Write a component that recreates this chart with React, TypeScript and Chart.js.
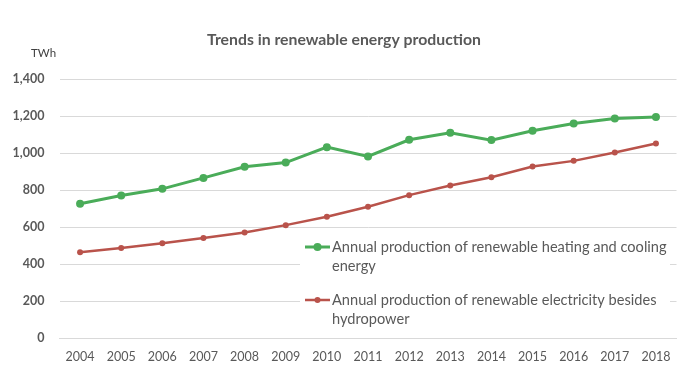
import React, { useEffect, useRef } from "react";
import { Chart, registerables } from "chart.js";

Chart.register(...registerables);

const years = ["2004","2005","2006","2007","2008","2009","2010","2011","2012","2013","2014","2015","2016","2017","2018"];
const heatingCooling = [726, 771, 807, 866, 926, 949, 1032, 982, 1072, 1110, 1070, 1121, 1160, 1187, 1195];
const electricity = [465, 488, 513, 542, 571, 611, 656, 710, 773, 825, 870, 928, 958, 1003, 1052];
const seriesNames = [
  "Annual production of renewable heating and cooling energy",
  "Annual production of renewable electricity besides hydropower",
];
const titleText = "Trends in renewable energy production";
const unitText = "TWh";

const GREEN = "#4aac59";
const RED = "#b9534b";
const TEXT = "#595959";
const FONT = "Lato, 'Open Sans', sans-serif";

function wrap(ctx: CanvasRenderingContext2D, text: string, maxW: number): string[] {
  const words = text.split(" ");
  const lines: string[] = [];
  let cur = "";
  for (const w of words) {
    const t = cur ? cur + " " + w : w;
    if (ctx.measureText(t).width > maxW && cur) {
      lines.push(cur);
      cur = w;
    } else cur = t;
  }
  if (cur) lines.push(cur);
  return lines;
}

const decorPlugin = {
  id: "decor",
  afterDraw(chart: any) {
    const ctx: CanvasRenderingContext2D = chart.ctx;
    ctx.save();
    // title
    ctx.fillStyle = TEXT;
    ctx.font = `bold 15.8px ${FONT}`;
    ctx.textAlign = "center";
    ctx.textBaseline = "middle";
    ctx.fillText(titleText, 344, 40);
    // unit
    ctx.fillStyle = "#404040";
    ctx.font = `11.5px ${FONT}`;
    ctx.textAlign = "left";
    ctx.fillText(unitText, 31, 53);
    // legend
    ctx.fillStyle = "#ffffff";
    ctx.fillRect(300, 232, 370, 100);
    const entries = [
      { color: GREEN, r: 4, lw: 3, y: 247 },
      { color: RED, r: 3, lw: 2.5, y: 300 },
    ];
    ctx.font = `14.6px ${FONT}`;
    entries.forEach((e, i) => {
      ctx.strokeStyle = e.color;
      ctx.lineWidth = e.lw;
      ctx.beginPath();
      ctx.moveTo(305, e.y);
      ctx.lineTo(330, e.y);
      ctx.stroke();
      ctx.fillStyle = e.color;
      ctx.beginPath();
      ctx.arc(317.5, e.y, e.r, 0, Math.PI * 2);
      ctx.fill();
      ctx.fillStyle = TEXT;
      ctx.textAlign = "left";
      ctx.textBaseline = "middle";
      const lines = wrap(ctx, seriesNames[i], 345);
      lines.forEach((ln, j) => ctx.fillText(ln, 332, e.y + j * 19));
    });
    ctx.restore();
  },
};

export default function App() {
  const ref = useRef<HTMLCanvasElement>(null);
  useEffect(() => {
    document.body.style.margin = "0";
    const chart = new Chart(ref.current!, {
      type: "line",
      data: {
        labels: years,
        datasets: [
          {
            label: seriesNames[0],
            data: heatingCooling,
            borderColor: GREEN,
            backgroundColor: GREEN,
            borderWidth: 3,
            pointRadius: 4,
            pointBorderWidth: 0,
            pointBackgroundColor: GREEN,
            tension: 0,
          },
          {
            label: seriesNames[1],
            data: electricity,
            borderColor: RED,
            backgroundColor: RED,
            borderWidth: 2.5,
            pointRadius: 3,
            pointBorderWidth: 0,
            pointBackgroundColor: RED,
            tension: 0,
          },
        ],
      },
      options: {
        responsive: false,
        animation: false,
        layout: { padding: { top: 79, right: 9.5, left: 0, bottom: 0 } },
        plugins: {
          legend: { display: false },
          title: { display: false },
          tooltip: { enabled: false },
        },
        scales: {
          x: {
            offset: true,
            grid: { display: false, drawTicks: false },
            border: { display: true, color: "#d9d9d9", width: 1 },
            ticks: { color: TEXT, font: { family: FONT, size: 12.5 }, padding: 11, maxRotation: 0, autoSkip: false },
            afterFit: (s: any) => { s.height = 41.7; },
          },
          y: {
            min: 0,
            max: 1400,
            grid: { color: "#d9d9d9", drawTicks: false },
            border: { display: false },
            ticks: {
              stepSize: 200,
              color: TEXT,
              padding: 15,
              font: { family: FONT, size: 12.5, weight: "bold" },
              callback: (v: any) => Number(v).toLocaleString("en-US"),
            },
            afterFit: (s: any) => { s.width = 59.5; },
          },
        },
      },
      plugins: [decorPlugin],
    } as any);
    return () => chart.destroy();
  }, []);
  return <canvas ref={ref} width={686} height={380} style={{ display: "block" }} />;
}
